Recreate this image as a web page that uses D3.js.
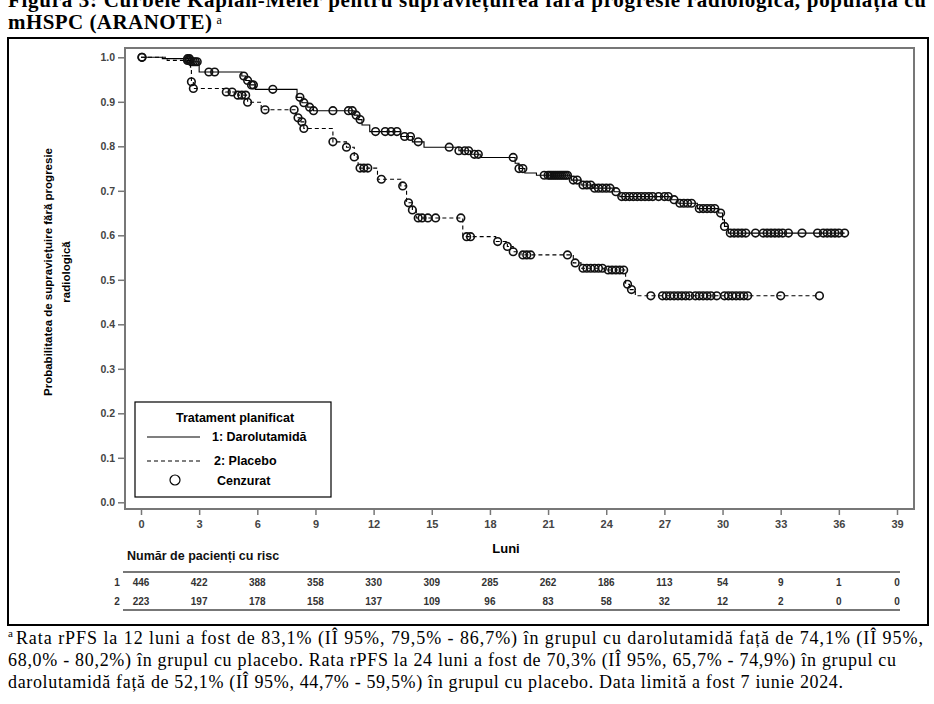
<!DOCTYPE html>
<html>
<head>
<meta charset="utf-8">
<script src="https://cdn.jsdelivr.net/npm/d3@7"></script>
<style>
  body { margin: 0; background: #fff; }
  svg { display: block; }
</style>
</head>
<body>
<svg id="chart" width="934" height="704"></svg>
<script>
// KM steps: [month, survival after the drop]
var daroSteps = [
  [0, 1.0], [1.1, 0.997], [2.6, 0.99], [3.0, 0.967], [5.2, 0.958], [5.4, 0.948],
  [5.6, 0.938], [5.9, 0.928], [8.05, 0.91], [8.3, 0.898], [8.6, 0.888], [8.9, 0.88],
  [11.0, 0.87], [11.2, 0.86], [11.4, 0.848], [11.8, 0.833], [13.4, 0.822], [14.0, 0.81],
  [14.6, 0.798], [16.4, 0.79], [17.0, 0.782], [17.5, 0.775], [19.3, 0.762], [19.5, 0.75],
  [19.8, 0.74], [20.4, 0.735], [22.2, 0.724], [22.7, 0.713], [23.3, 0.706], [24.4, 0.698],
  [24.7, 0.687], [27.3, 0.68], [27.7, 0.672], [28.7, 0.66], [29.8, 0.65], [30.0, 0.635],
  [30.1, 0.62], [30.3, 0.605]
];
var daroCensor = [
  0.05, 2.4, 2.5, 2.6, 2.7, 2.8, 2.9, 3.5, 3.8, 5.3, 5.5, 5.7, 5.8, 6.8, 8.2, 8.4, 8.7, 8.9,
  9.9, 10.7, 10.9, 11.1, 11.3, 12.1, 12.6, 12.9, 13.2, 13.6, 13.9, 14.3, 15.9, 16.4, 16.7,
  16.9, 17.2, 17.4, 19.2, 19.5, 19.7, 20.8, 21.0, 21.1, 21.2, 21.3, 21.4, 21.5, 21.6, 21.7,
  21.8, 21.9, 22.0, 22.3, 22.5, 22.8, 23.0, 23.2, 23.4, 23.6, 23.8, 24.0, 24.2, 24.5, 24.8,
  25.0, 25.2, 25.4, 25.6, 25.8, 26.0, 26.2, 26.4, 26.7, 27.0, 27.2, 27.5, 27.8, 28.0, 28.2,
  28.4, 28.8, 29.0, 29.2, 29.4, 29.6, 29.9, 30.1, 30.4, 30.6, 30.8, 31.0, 31.2, 31.7, 32.1,
  32.3, 32.5, 32.7, 32.9, 33.1, 33.4, 34.1, 34.9, 35.2, 35.4, 35.6, 35.8, 36.0, 36.3
];
var placeboSteps = [
  [0, 1.0], [1.35, 0.993], [2.55, 0.978], [2.6, 0.945], [2.7, 0.93], [4.35, 0.922],
  [5.0, 0.915], [5.5, 0.899], [6.2, 0.882], [8.0, 0.864], [8.2, 0.855], [8.4, 0.84],
  [9.9, 0.81], [10.6, 0.798], [11.0, 0.776], [11.2, 0.751], [12.2, 0.726], [13.4, 0.711],
  [13.7, 0.673], [14.0, 0.657], [14.2, 0.639], [16.6, 0.597], [18.3, 0.586], [18.9, 0.575],
  [19.2, 0.563], [19.6, 0.556], [22.3, 0.538], [22.7, 0.526], [23.9, 0.522], [25.0, 0.49],
  [25.2, 0.478], [25.5, 0.464]
];
var placeboCensor = [
  0.05, 2.4, 2.5, 2.6, 2.7, 4.4, 4.7, 5.0, 5.2, 5.4, 5.5, 6.4, 7.9, 8.1, 8.3, 8.4, 9.9,
  10.6, 11.0, 11.3, 11.5, 11.7, 12.4, 13.5, 13.8, 14.0, 14.3, 14.5, 14.8, 15.2, 16.5, 16.8,
  17.0, 18.4, 18.9, 19.2, 19.7, 19.9, 20.1, 22.0, 22.4, 22.8, 23.0, 23.2, 23.4, 23.6, 23.8,
  24.1, 24.3, 24.5, 24.7, 24.9, 25.1, 25.3, 26.3, 26.9, 27.1, 27.3, 27.5, 27.7, 27.9, 28.1,
  28.3, 28.6, 28.8, 29.0, 29.2, 29.4, 29.7, 30.1, 30.3, 30.5, 30.7, 30.9, 31.1, 31.3, 33.0, 35.0
];

var xTicks = [0, 3, 6, 9, 12, 15, 18, 21, 24, 27, 30, 33, 36, 39];
var yTicks = [0, 0.1, 0.2, 0.3, 0.4, 0.5, 0.6, 0.7, 0.8, 0.9, 1.0];
var riskDaro = [446, 422, 388, 358, 330, 309, 285, 262, 186, 113, 54, 9, 1, 0];
var riskPlacebo = [223, 197, 178, 158, 137, 109, 96, 83, 58, 32, 12, 2, 0, 0];

var titleLines = [
  "Figura 3: Curbele Kaplan-Meier pentru supraviețuirea fără progresie radiologică, populația cu",
  "mHSPC (ARANOTE)"
];
var noteLines = [
  "Rata rPFS la 12 luni a fost de 83,1% (IÎ 95%, 79,5% - 86,7%) în grupul cu darolutamidă față de 74,1% (IÎ 95%,",
  "68,0% - 80,2%) în grupul cu placebo. Rata rPFS la 24 luni a fost de 70,3% (IÎ 95%, 65,7% - 74,9%) în grupul cu",
  "darolutamidă față de 52,1% (IÎ 95%, 44,7% - 59,5%) în grupul cu placebo. Data limită a fost 7 iunie 2024."
];

var svg = d3.select("#chart");
var sans = "'Liberation Sans', Arial, sans-serif";
var serif = "'Liberation Serif', 'Times New Roman', serif";

var x = d3.scaleLinear().domain([0, 39]).range([141, 897]);
var y = d3.scaleLinear().domain([0, 1]).range([502.3, 57.3]);

// title (first line is cut by the page top)
svg.append("text").attr("x", 8).attr("y", 7)
  .attr("font-family", serif).attr("font-weight", "bold").attr("font-size", 21)
  .attr("textLength", 918).text(titleLines[0]);
var t2 = svg.append("text").attr("x", 8).attr("y", 29)
  .attr("font-family", serif).attr("font-weight", "bold").attr("font-size", 21);
t2.append("tspan").attr("textLength", 204).text(titleLines[1]);
t2.append("tspan").attr("dx", 4).attr("dy", -5).attr("font-size", 12).attr("font-weight", "normal").text("a");

// outer frame
svg.append("rect").attr("x", 8).attr("y", 38).attr("width", 920).attr("height", 587)
  .attr("fill", "none").attr("stroke", "#000").attr("stroke-width", 2);

// plot frame
svg.append("rect").attr("x", 125).attr("y", 48).attr("width", 789).attr("height", 461)
  .attr("fill", "none").attr("stroke", "#777").attr("stroke-width", 2);

var yAxis = svg.append("g").attr("transform", "translate(125,0)")
  .call(d3.axisLeft(y).tickValues(yTicks).tickFormat(d3.format(".1f")).tickSize(7).tickPadding(3));
var xAxis = svg.append("g").attr("transform", "translate(0,509)")
  .call(d3.axisBottom(x).tickValues(xTicks).tickSize(6).tickPadding(5));
[yAxis, xAxis].forEach(function(g) {
  g.select(".domain").remove();
  g.selectAll(".tick line").attr("stroke", "#777").attr("stroke-width", 1.5);
  g.selectAll(".tick text").attr("fill", "#444").attr("font-weight", "bold")
    .attr("font-family", sans).attr("font-size", 10.5);
});
xAxis.selectAll(".tick text").attr("font-size", 11);

// y label
var yl = svg.append("text").attr("transform", "translate(48,272) rotate(-90)")
  .attr("text-anchor", "middle").attr("font-family", sans).attr("font-weight", "bold").attr("font-size", 11.5);
yl.append("tspan").attr("x", 0).attr("dy", "0.35em").text("Probabilitatea de supraviețuire fără progresie");
yl.append("tspan").attr("x", 0).attr("dy", 18).text("radiologică");

// curves
function survAt(steps, t) {
  var s = 1;
  steps.forEach(function(d) { if (d[0] <= t) s = d[1]; });
  return s;
}
var line = d3.line().x(function(d) { return x(d[0]); }).y(function(d) { return y(d[1]); })
  .curve(d3.curveStepAfter);

var arms = [
  {steps: daroSteps, censor: daroCensor, dash: null},
  {steps: placeboSteps, censor: placeboCensor, dash: "4,3"}
];
arms.forEach(function(a) {
  var last = d3.max(a.censor);
  var pts = a.steps.concat([[last, a.steps[a.steps.length - 1][1]]]);
  svg.append("path").attr("d", line(pts)).attr("fill", "none")
    .attr("stroke", "#000").attr("stroke-width", 1.1)
    .attr("stroke-dasharray", a.dash);
  svg.append("g").selectAll("circle").data(a.censor).join("circle")
    .attr("cx", function(d) { return x(d); })
    .attr("cy", function(d) { return y(survAt(a.steps, d)); })
    .attr("r", 3.8).attr("fill", "none").attr("stroke", "#111").attr("stroke-width", 1.6);
});

// legend
var lg = svg.append("g");
lg.append("rect").attr("x", 135).attr("y", 402).attr("width", 196).attr("height", 95)
  .attr("fill", "#fff").attr("stroke", "#000").attr("stroke-width", 1.2);
lg.append("text").attr("x", 235).attr("y", 422).attr("text-anchor", "middle")
  .attr("font-family", sans).attr("font-weight", "bold").attr("font-size", 12.5).text("Tratament planificat");
lg.append("line").attr("x1", 147).attr("x2", 200).attr("y1", 437).attr("y2", 437)
  .attr("stroke", "#000").attr("stroke-width", 1.1);
lg.append("line").attr("x1", 147).attr("x2", 200).attr("y1", 461).attr("y2", 461)
  .attr("stroke", "#000").attr("stroke-width", 1.1).attr("stroke-dasharray", "4,3");
lg.append("circle").attr("cx", 175).attr("cy", 480).attr("r", 5)
  .attr("fill", "none").attr("stroke", "#000").attr("stroke-width", 1.2);
[["1: Darolutamidă", 212, 441], ["2: Placebo", 214, 465], ["Cenzurat", 217, 485]].forEach(function(d) {
  lg.append("text").attr("x", d[1]).attr("y", d[2]).attr("font-family", sans)
    .attr("font-weight", "bold").attr("font-size", 12.5).text(d[0]);
});

// x label
svg.append("text").attr("x", 506).attr("y", 553).attr("text-anchor", "middle")
  .attr("font-family", sans).attr("font-weight", "bold")
  .attr("font-size", 13).text("Luni");

// risk table
svg.append("text").attr("x", 127).attr("y", 560).attr("font-family", sans)
  .attr("font-size", 12.5).attr("font-weight", "bold").attr("fill", "#111").text("Număr de pacienți cu risc");
[572, 610].forEach(function(yy) {
  svg.append("line").attr("x1", 123).attr("x2", 900).attr("y1", yy).attr("y2", yy)
    .attr("stroke", "#777").attr("stroke-width", 2);
});
[[riskDaro, "1", 582], [riskPlacebo, "2", 601]].forEach(function(r) {
  svg.append("text").attr("x", 117).attr("y", r[2]).attr("dy", "0.35em").attr("text-anchor", "middle")
    .attr("font-family", sans).attr("font-weight", "bold")
    .attr("font-size", 10).attr("fill", "#333").text(r[1]);
  svg.append("g").selectAll("text").data(r[0]).join("text")
    .attr("x", function(d, i) { return x(xTicks[i]); }).attr("y", r[2]).attr("dy", "0.35em")
    .attr("text-anchor", "middle").attr("font-family", sans)
    .attr("font-weight", "bold").attr("font-size", 10).attr("fill", "#333")
    .text(function(d) { return d; });
});

// footnote
var noteLen = [917, 888, 835];
noteLines.forEach(function(s, i) {
  var t = svg.append("text").attr("x", 8).attr("y", 644 + i * 22)
    .attr("font-family", serif).attr("font-size", 18);
  if (i === 0) {
    t.append("tspan").attr("font-size", 11).attr("dy", -7).text("a");
    t.append("tspan").attr("dx", 3).attr("dy", 7).attr("textLength", noteLen[i] - 10).text(s);
  } else {
    t.attr("textLength", noteLen[i]).text(s);
  }
});
</script>
</body>
</html>
